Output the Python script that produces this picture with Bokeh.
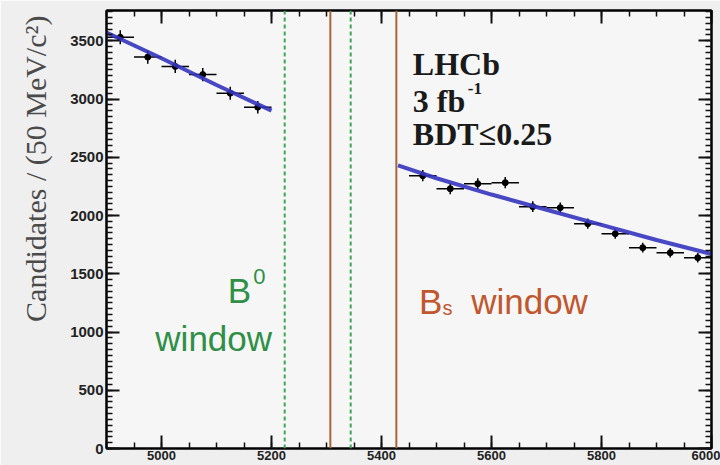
import math
from bokeh.plotting import figure
from bokeh.models import LinearAxis, Range1d, Span, Label, FixedTicker, ColumnDataSource, Title
from bokeh.embed import file_html
from bokeh.resources import INLINE

# ---- data ----
mass_left = [4925, 4975, 5025, 5075, 5125, 5175]
counts_left = [3530, 3360, 3280, 3210, 3050, 2930]
mass_right = [5475, 5525, 5575, 5625, 5675, 5725, 5775, 5825, 5875, 5925, 5975]
counts_right = [2342, 2230, 2273, 2282, 2076, 2067, 1930, 1844, 1724, 1681, 1638]
fit_mass_left = [4900, 5000, 5100, 5200]
fit_left = [3570, 3350, 3120, 2900]
fit_mass_right = [5430, 5500, 5600, 5700, 5800, 5900, 6000]
fit_right = [2430, 2320, 2180, 2050, 1920, 1790, 1670]
b0_window = [5224, 5344]
bs_window = [5307, 5427]
x_ticks = [5000, 5200, 5400, 5600, 5800, 6000]
y_ticks = [0, 500, 1000, 1500, 2000, 2500, 3000, 3500]
bin_width = 50

mass = mass_left + mass_right
counts = counts_left + counts_right
err = [math.sqrt(c) for c in counts]
src = ColumnDataSource(dict(
    x=mass, y=counts,
    x0=[m - bin_width / 2 for m in mass], x1=[m + bin_width / 2 for m in mass],
    y0=[c - e for c, e in zip(counts, err)], y1=[c + e for c, e in zip(counts, err)],
))

p = figure(width=720, height=465, x_range=Range1d(4900, 6000), y_range=Range1d(0, 3760),
           output_backend="svg", toolbar_location=None,
           min_border_left=105, min_border_right=9, min_border_top=10, min_border_bottom=17,
           background_fill_color="#f6f6f6", border_fill_color="#efefef")
p.grid.visible = False
p.outline_line_color = "black"
p.outline_line_width = 2

x_minor = list(range(4900, 6001, 50))
y_minor = list(range(0, 3760, 50))


def style(ax, ticks, labels=True):
    ax.axis_line_width = 2
    ax.major_tick_in = 13
    ax.major_tick_out = 0
    ax.minor_tick_in = 6
    ax.minor_tick_out = 0
    ax.major_tick_line_width = 2
    ax.minor_tick_line_width = 1.5
    ax.major_tick_line_color = "#111111"
    ax.minor_tick_line_color = "#111111"
    if labels:
        ax.major_label_text_font = "Liberation Sans"
        ax.major_label_text_font_style = "bold"
        ax.major_label_text_color = "#222222"
    else:
        ax.major_label_overrides = {t: "" for t in ticks}
        ax.major_label_standoff = 0


p.xaxis.ticker = FixedTicker(ticks=x_ticks, minor_ticks=x_minor)
p.yaxis.ticker = FixedTicker(ticks=y_ticks, minor_ticks=y_minor)
style(p.xaxis[0], x_ticks)
style(p.yaxis[0], y_ticks)
p.xaxis.major_label_text_font_size = "13px"
p.xaxis.major_label_standoff = 2
p.yaxis.major_label_text_font_size = "15px"
p.yaxis.major_label_standoff = 3

top = LinearAxis(ticker=FixedTicker(ticks=x_ticks, minor_ticks=x_minor))
right = LinearAxis(ticker=FixedTicker(ticks=y_ticks, minor_ticks=y_minor))
style(top, x_ticks, labels=False)
style(right, y_ticks, labels=False)
p.add_layout(top, "above")
p.add_layout(right, "right")

# y axis title at the top end of the axis
p.add_layout(Title(text="Candidates / (50 MeV/c\u00b2)", align="right", offset=5, standoff=32,
                   text_font="Liberation Serif", text_font_style="normal",
                   text_font_size="30px", text_color="#4a4a4a"), "left")

# window lines
for loc in b0_window:
    p.add_layout(Span(location=loc, dimension="height", line_color="#3fa656",
                      line_dash="4 3", line_width=2))
for loc in bs_window:
    p.add_layout(Span(location=loc, dimension="height", line_color="#a8643a",
                      line_width=2))

# data points
p.segment(x0="x", y0="y0", x1="x", y1="y1", source=src, line_color="black", line_width=1.5)
p.segment(x0="x0", y0="y", x1="x1", y1="y", source=src, line_color="black", line_width=1.5)
p.scatter(x="x", y="y", source=src, size=6, color="black")

# fit
p.line(fit_mass_left, fit_left, line_color="#3535c0", line_width=4, line_alpha=0.9)
p.line(fit_mass_right, fit_right, line_color="#3535c0", line_width=4, line_alpha=0.9)

# texts
serif = "Liberation Serif"
sans = "Liberation Sans"
for txt, yy in [("LHCb", 3305), ("3 fb", 2987), ("BDT\u22640.25", 2704)]:
    p.add_layout(Label(x=5457, y=yy, text=txt, text_font=serif, text_font_style="bold",
                       text_font_size="32px", text_color="#1a1a1a", text_baseline="alphabetic"))
p.add_layout(Label(x=5557, y=3090, text="-1", text_font=serif, text_font_style="bold",
                   text_font_size="17px", text_color="#1a1a1a", text_baseline="alphabetic"))

green = "#2f8f46"
p.add_layout(Label(x=5163, y=1356, text="B", text_font=sans, text_font_size="35px",
                   text_color=green, text_align="right", text_baseline="alphabetic"))
p.add_layout(Label(x=5167, y=1477, text="0", text_font=sans, text_font_size="22px",
                   text_color=green, text_align="left", text_baseline="alphabetic"))
p.add_layout(Label(x=5201, y=944, text="window", text_font=sans, text_font_size="35px",
                   text_color=green, text_align="right", text_baseline="alphabetic"))

orange = "#c0572f"
p.add_layout(Label(x=5468, y=1262, text="B", text_font=sans, text_font_size="35px",
                   text_color=orange, text_baseline="alphabetic"))
p.add_layout(Label(x=5511, y=1202, text="s", text_font=sans, text_font_size="20px",
                   text_color=orange, text_baseline="alphabetic"))
p.add_layout(Label(x=5563, y=1262, text="window", text_font=sans, text_font_size="35px",
                   text_color=orange, text_baseline="alphabetic"))

open("out.html", "w").write(file_html(p, INLINE))
